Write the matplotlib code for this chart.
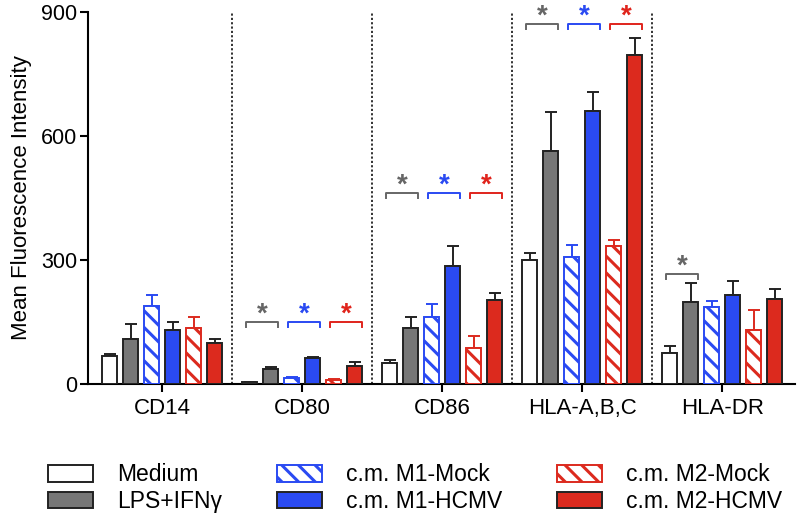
import numpy as np
import matplotlib
matplotlib.use('Agg')
import matplotlib.pyplot as plt

plt.rcParams['font.family'] = ['Liberation Sans', 'DejaVu Sans']
plt.rcParams['hatch.linewidth'] = 2.2

# data
markers = ['CD14', 'CD80', 'CD86', 'HLA-A,B,C', 'HLA-DR']
labels = ['Medium', 'LPS+IFNγ', 'c.m. M1-Mock', 'c.m. M1-HCMV', 'c.m. M2-Mock', 'c.m. M2-HCMV']

medium = [68, 5, 52, 299, 76]
medium_err = [4, 1, 6, 19, 17]
lps = [110, 37, 135, 564, 198]
lps_err = [36, 5, 28, 93, 47]
m1_mock = [189, 15, 163, 308, 186]
m1_mock_err = [26, 2, 30, 29, 14]
m1_hcmv = [131, 64, 285, 660, 216]
m1_hcmv_err = [19, 2, 50, 47, 33]
m2_mock = [136, 10, 88, 334, 131]
m2_mock_err = [27, 2, 28, 15, 47]
m2_hcmv = [98, 44, 204, 795, 206]
m2_hcmv_err = [10, 9, 15, 42, 24]

# significance brackets: marker index, pair index (0=grey, 1=blue, 2=red), height
sig_marker = [1, 1, 1, 2, 2, 2, 3, 3, 3, 4]
sig_pair = [0, 1, 2, 0, 1, 2, 0, 1, 2, 0]
sig_height = [150, 150, 150, 461, 461, 461, 870, 870, 870, 265]

values = [medium, lps, m1_mock, m1_hcmv, m2_mock, m2_hcmv]
errors = [medium_err, lps_err, m1_mock_err, m1_hcmv_err, m2_mock_err, m2_hcmv_err]

GREY = '#777777'
BLUE = '#2a4af2'
RED = '#dc2a1e'
faces = ['white', GREY, 'white', BLUE, 'white', RED]
edges = ['#222222', '#222222', BLUE, '#222222', RED, '#222222']
hatches = [None, None, '\\\\', None, '\\\\', None]
pair_colors = ['#666666', BLUE, '#e0241c']

fig = plt.figure(figsize=(8, 5.18), dpi=100)
ax = fig.add_axes([0.11, 0.2587, 0.884, 0.718])

x = np.arange(len(markers))
step = 0.15
width = 0.107
handles = []
for i in range(6):
    xi = x + (i - 2.5) * step
    b = ax.bar(xi, values[i], width, color=faces[i], edgecolor=edges[i],
               hatch=hatches[i], linewidth=1.4, label=labels[i], zorder=3)
    handles.append(b)
    ax.errorbar(xi, values[i], yerr=[np.zeros(len(markers)), errors[i]], fmt='none',
                ecolor=edges[i], elinewidth=1.4, capsize=4.5, capthick=1.4, zorder=2)

for m, p, h in zip(sig_marker, sig_pair, sig_height):
    c1 = m + (2 * p - 2.5) * step
    c2 = c1 + step
    left, right = c1 - 0.025, c2 + 0.05
    ax.plot([left, left, right, right], [h - 12, h, h, h - 12], color=pair_colors[p],
            lw=1.4, clip_on=False, zorder=4)
    ax.text((left + right) / 2, h + 1, '*', color=pair_colors[p], fontsize=20,
            fontweight='bold', ha='center', va='baseline', clip_on=False)

for d in [0.5, 1.5, 2.5, 3.5]:
    ax.axvline(d, color='#222222', lw=1.3, ls=(0, (1.2, 1.2)), zorder=1)

ax.set_xlim(-0.529, 4.52)
ax.set_ylim(0, 900)
ax.set_yticks([0, 300, 600, 900])
ax.set_xticks(x)
ax.set_xticklabels(markers, fontsize=16)
ax.tick_params(axis='y', labelsize=15.5, length=6, width=1.5, pad=2)
ax.tick_params(axis='x', length=6, width=1.5, pad=4)
ax.spines['top'].set_visible(False)
ax.spines['right'].set_visible(False)
ax.spines['left'].set_linewidth(1.5)
ax.spines['bottom'].set_linewidth(1.5)
ax.set_ylabel('Mean Fluorescence Intensity', fontsize=16, labelpad=6)

fig.legend(handles=handles, labels=labels, ncol=3, loc='lower left',
           bbox_to_anchor=(48 / 800, 0.01), frameon=False, fontsize=16.5,
           handlelength=1.96, handleheight=0.72, handletextpad=1.05,
           columnspacing=2.4, labelspacing=0.15, borderpad=0, borderaxespad=0)

fig.savefig('out.png', dpi=100)
